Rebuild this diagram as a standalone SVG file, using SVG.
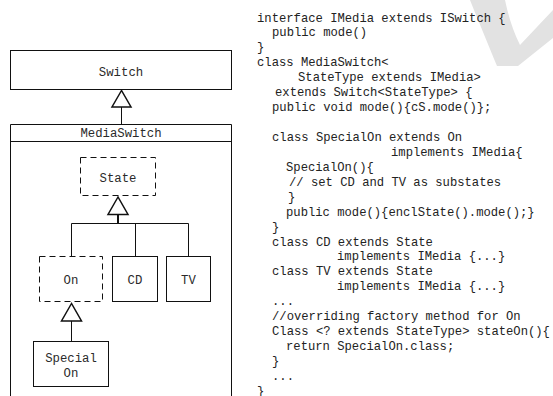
<svg xmlns="http://www.w3.org/2000/svg" width="553" height="396" viewBox="0 0 553 396">
<style>
  .box { fill: #fff; stroke: #111; stroke-width: 1; }
  .dash { fill: #fff; stroke: #111; stroke-width: 1; stroke-dasharray: 6 4; }
  .lbl { font-family: "Liberation Mono", "Courier New", monospace; font-size: 12.3px; fill: #2a2a2a; text-anchor: middle; }
  .code { font-family: "Liberation Mono", "Courier New", monospace; font-size: 12.2px; fill: #222; }
  .line { fill: none; stroke: #111; stroke-width: 1; }
  .tri { fill: #fff; stroke: #111; stroke-width: 1.5; stroke-linejoin: miter; }
</style>
<rect x="0" y="0" width="553" height="396" fill="#fff"/>
<path d="M470,0 L505,0 C508,15 513,31 520,45 L553,10 L553,38 L518,66 L497,66 C488,44 478,20 470,0 Z" fill="#e2e2e2"/>

<g id="mediaswitch">
  <path class="box" d="M10.5,400 L10.5,124.5 L231.5,124.5 L231.5,400"/>
  <line class="line" x1="10.5" y1="141.5" x2="231.5" y2="141.5"/>
  <text class="lbl" x="121" y="137">MediaSwitch</text>
</g>
<g id="switch">
  <rect class="box" x="10.5" y="50.5" width="221" height="39"/>
  <text class="lbl" x="121" y="76">Switch</text>
</g>
<g id="state">
  <rect class="dash" x="80.5" y="157.5" width="75" height="38"/>
  <text class="lbl" x="118" y="182">State</text>
</g>
<g id="on">
  <rect class="dash" x="39.5" y="256.5" width="63" height="45"/>
  <text class="lbl" x="71" y="284">On</text>
</g>
<g id="cd">
  <rect class="box" x="112.5" y="256.5" width="45" height="45"/>
  <text class="lbl" x="135" y="284">CD</text>
</g>
<g id="tv">
  <rect class="box" x="166.5" y="256.5" width="44" height="45"/>
  <text class="lbl" x="188.5" y="284">TV</text>
</g>
<g id="specialon">
  <rect class="box" x="33.5" y="341.5" width="75" height="45"/>
  <text class="lbl" x="71" y="362">Special</text>
  <text class="lbl" x="71" y="377">On</text>
</g>

<g id="connectors">
  <line class="line" x1="121.5" y1="107" x2="121.5" y2="124.5"/>
  <polygon class="tri" points="121.5,90.5 112,107 131,107"/>
  <line class="line" x1="118" y1="214.5" x2="118" y2="223.5" style="stroke-width:2"/>
  <polyline class="line" points="71.5,256.5 71.5,223.5 188.5,223.5 188.5,256.5"/>
  <line class="line" x1="135.5" y1="223.5" x2="135.5" y2="256.5"/>
  <polygon class="tri" points="118,197 108,214.5 128,214.5"/>
  <line class="line" x1="71.5" y1="321" x2="71.5" y2="341.5"/>
  <polygon class="tri" points="71.5,303.5 61.5,321 81.5,321"/>
</g>

<g id="code" class="code">
  <text x="257" y="21.5">interface IMedia extends ISwitch {</text>
  <text x="272" y="36.4">public mode()</text>
  <text x="257" y="51.4">}</text>
  <text x="257" y="66.3">class MediaSwitch&lt;</text>
  <text x="298" y="81.2">StateType extends IMedia&gt;</text>
  <text x="275" y="96.2">extends Switch&lt;StateType&gt; {</text>
  <text x="272" y="111.1">public void mode(){cS.mode()};</text>
  <text x="272" y="140.9">class SpecialOn extends On</text>
  <text x="391" y="155.9">implements IMedia{</text>
  <text x="286" y="170.8">SpecialOn(){</text>
  <text x="289" y="185.7">// set CD and TV as substates</text>
  <text x="288" y="200.7">}</text>
  <text x="286" y="215.6">public mode(){enclState().mode();}</text>
  <text x="272" y="230.5">}</text>
  <text x="272" y="245.5">class CD extends State</text>
  <text x="337" y="260.4">implements IMedia {...}</text>
  <text x="272" y="275.3">class TV extends State</text>
  <text x="337" y="290.2">implements IMedia {...}</text>
  <text x="272" y="305.2">...</text>
  <text x="272" y="320.1">//overriding factory method for On</text>
  <text x="272" y="335">Class &lt;? extends StateType&gt; stateOn(){</text>
  <text x="286" y="350">return SpecialOn.class;</text>
  <text x="272" y="364.9">}</text>
  <text x="272" y="379.8">...</text>
  <text x="257" y="394.8">}</text>
</g>
</svg>
